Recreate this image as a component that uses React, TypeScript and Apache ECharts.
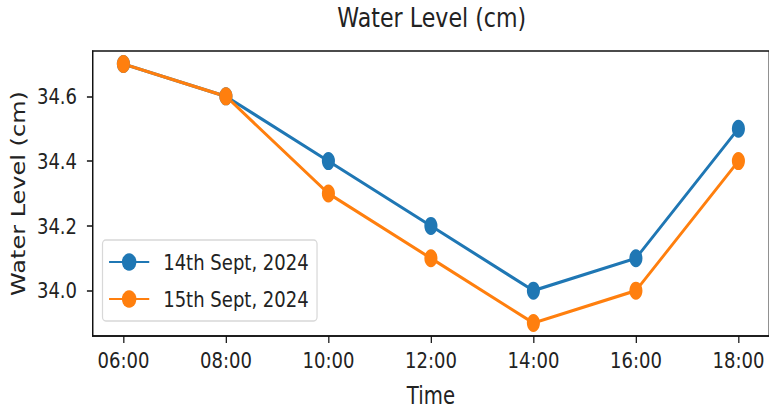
import React, { useEffect, useRef } from "react";
import * as echarts from "echarts";

const times = ["06:00", "08:00", "10:00", "12:00", "14:00", "16:00", "18:00"];
const sept14 = [34.7, 34.6, 34.4, 34.2, 34.0, 34.1, 34.5];
const sept15 = [34.7, 34.6, 34.3, 34.1, 33.9, 34.0, 34.4];
const yTicks = [34.0, 34.2, 34.4, 34.6];
const seriesNames = ["14th Sept, 2024", "15th Sept, 2024"];

// the drawing is laid out wide and squeezed horizontally
const SQUEEZE = 0.82;
const VIEW_W = 769;
const VIEW_H = 414;
const CHART_W = VIEW_W / SQUEEZE;

const FONT = '"DejaVu Sans", sans-serif';
const INK = "#222";

export default function App() {
  const ref = useRef<HTMLDivElement>(null);

  useEffect(() => {
    if (!ref.current) return;
    const chart = echarts.init(ref.current, undefined, { renderer: "svg" });
    const gridLeft = 113;
    const gridWidth = 830;
    const mk = (name: string, vals: number[], color: string) => ({
      name,
      type: "line",
      data: vals.map((v, i) => [i, v]),
      symbol: "circle",
      symbolSize: [16, 18],
      lineStyle: { width: 3.2, color },
      itemStyle: { color },
      emphasis: { disabled: true },
    });
    chart.setOption({
      animation: false,
      textStyle: { fontFamily: FONT },
      graphic: [
        {
          type: "text",
          x: gridLeft + 827 / 2,
          y: 4,
          style: {
            text: "Water Level (cm)",
            font: `27px ${FONT}`,
            fill: INK,
            align: "center",
            verticalAlign: "top",
          },
        },
      ],
      grid: {
        left: gridLeft,
        top: 51,
        width: gridWidth,
        height: 285,
        show: true,
        borderColor: "#111",
        borderWidth: 1.5,
        backgroundColor: "transparent",
      },
      legend: {
        orient: "vertical",
        left: 125,
        top: 240,
        data: seriesNames,
        itemWidth: 49,
        itemHeight: 22,
        itemGap: 15,
        padding: [11, 10, 11, 7],
        backgroundColor: "#fff",
        borderColor: "#d8d8d8",
        borderWidth: 1.5,
        borderRadius: 4,
        textStyle: { fontFamily: FONT, fontSize: 22, color: INK, padding: [0, 0, 0, 12] },
      },
      xAxis: {
        type: "value",
        min: -0.3,
        max: 6.3,
        name: "Time",
        nameLocation: "middle",
        nameGap: 48,
        nameTextStyle: { fontFamily: FONT, fontSize: 24, color: INK },
        axisLine: { show: true, onZero: false, lineStyle: { color: "#111", width: 1.5 } },
        axisTick: { show: true, length: 7, customValues: times.map((_, i) => i), lineStyle: { color: "#111", width: 1.5 } },
        axisLabel: {
          customValues: times.map((_, i) => i),
          formatter: (v: number) => times[Math.round(v)] ?? "",
          fontFamily: FONT,
          fontSize: 22,
          color: INK,
          margin: 13,
        },
        splitLine: { show: false },
      },
      yAxis: {
        type: "value",
        min: 33.86,
        max: 34.74,
        name: "Water Level (cm)",
        nameLocation: "middle",
        nameGap: 72,
        nameTextStyle: { fontFamily: FONT, fontSize: 24, color: INK },
        axisLine: { show: true, onZero: false, lineStyle: { color: "#111", width: 1.5 } },
        axisTick: { show: true, length: 7, customValues: yTicks, lineStyle: { color: "#111", width: 1.5 } },
        axisLabel: {
          customValues: yTicks,
          formatter: (v: number) => v.toFixed(1),
          fontFamily: FONT,
          fontSize: 22,
          color: INK,
          margin: 19,
        },
        splitLine: { show: false },
      },
      series: [mk(seriesNames[0], sept14, "#1f77b4"), mk(seriesNames[1], sept15, "#ff7f0e")],
    });
    return () => chart.dispose();
  }, []);

  return (
    <div
      style={{
        position: "fixed",
        left: 0,
        top: 0,
        width: VIEW_W,
        height: VIEW_H,
        overflow: "hidden",
        background: "#fff",
      }}
    >
      <div
        ref={ref}
        style={{
          width: CHART_W,
          height: VIEW_H,
          transform: `scaleX(${SQUEEZE})`,
          transformOrigin: "0 0",
        }}
      />
    </div>
  );
}
